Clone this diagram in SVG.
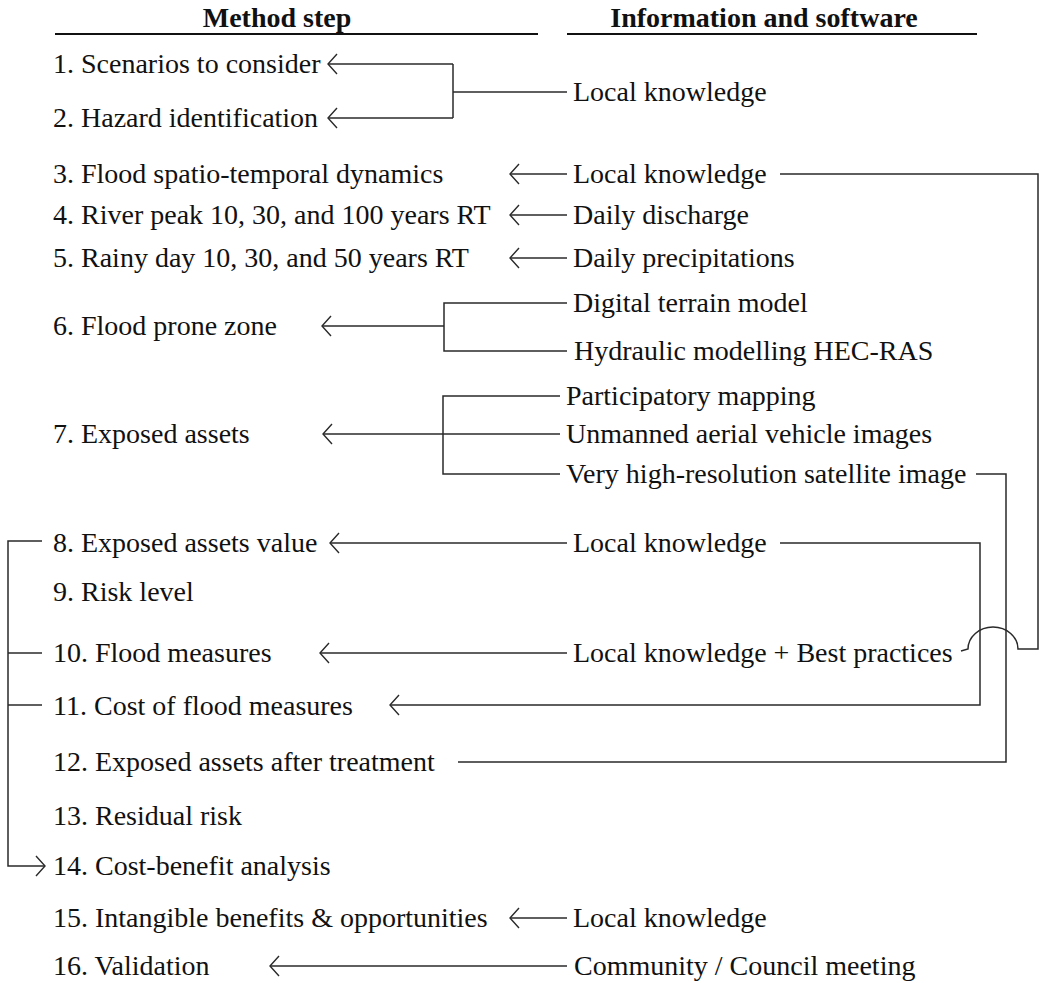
<svg xmlns="http://www.w3.org/2000/svg" width="1041" height="983" viewBox="0 0 1041 983">
<style>
text{font-family:"Liberation Serif","Times New Roman",serif;font-size:28px;fill:#111}
.h{font-weight:bold;text-anchor:middle}
.c{fill:none;stroke:#2a2a2a;stroke-width:1.5}
.u{stroke:#111;stroke-width:2}
</style>
<defs>
<marker id="ar" viewBox="-11 -12 13 24" markerWidth="13" markerHeight="24" refX="0" refY="0" markerUnits="userSpaceOnUse" orient="auto">
<path d="M-9,-10 L0,0 L-9,10" fill="none" stroke="#2a2a2a" stroke-width="1.4"/>
</marker>
</defs>
<rect width="1041" height="983" fill="#fff"/>
<g id="headers">
<text class="h" x="277" y="27">Method step</text>
<line class="u" x1="55" y1="34" x2="538" y2="34"/>
<text class="h" x="764" y="27">Information and software</text>
<line class="u" x1="567" y1="34" x2="977" y2="34"/>
</g>
<g id="steps">
<g id="s1"><text x="53" y="73">1. Scenarios to consider</text></g>
<g id="s2"><text x="53" y="127">2. Hazard identification</text></g>
<g id="s3"><text x="53" y="183">3. Flood spatio-temporal dynamics</text></g>
<g id="s4"><text x="53" y="224">4. River peak 10, 30, and 100 years RT</text></g>
<g id="s5"><text x="53" y="267">5. Rainy day 10, 30, and 50 years RT</text></g>
<g id="s6"><text x="53" y="335">6. Flood prone zone</text></g>
<g id="s7"><text x="53" y="443">7. Exposed assets</text></g>
<g id="s8"><text x="53" y="552">8. Exposed assets value</text></g>
<g id="s9"><text x="53" y="601">9. Risk level</text></g>
<g id="s10"><text x="53" y="662">10. Flood measures</text></g>
<g id="s11"><text x="53" y="715">11. Cost of flood measures</text></g>
<g id="s12"><text x="53" y="771">12. Exposed assets after treatment</text></g>
<g id="s13"><text x="53" y="825">13. Residual risk</text></g>
<g id="s14"><text x="53" y="875">14. Cost-benefit analysis</text></g>
<g id="s15"><text x="53" y="927">15. Intangible benefits &amp; opportunities</text></g>
<g id="s16"><text x="53" y="975">16. Validation</text></g>
</g>
<g id="info">
<g id="i1"><text x="573" y="101">Local knowledge</text></g>
<g id="i3"><text x="573" y="183">Local knowledge</text></g>
<g id="i4"><text x="573" y="224">Daily discharge</text></g>
<g id="i5"><text x="573" y="267">Daily precipitations</text></g>
<g id="i6a"><text x="573" y="312">Digital terrain model</text></g>
<g id="i6b"><text x="574" y="360">Hydraulic modelling HEC-RAS</text></g>
<g id="i7a"><text x="566" y="405">Participatory mapping</text></g>
<g id="i7b"><text x="566" y="443">Unmanned aerial vehicle images</text></g>
<g id="i7c"><text x="566" y="483">Very high-resolution satellite image</text></g>
<g id="i8"><text x="573" y="552">Local knowledge</text></g>
<g id="i10"><text x="573" y="662">Local knowledge + Best practices</text></g>
<g id="i15"><text x="573" y="927">Local knowledge</text></g>
<g id="i16"><text x="574" y="975">Community / Council meeting</text></g>
</g>
<g id="connectors">
<path class="c" d="M567,92 H453"/>
<path class="c" d="M453,64 V118"/>
<path class="c" d="M453,64 H328" marker-end="url(#ar)"/>
<path class="c" d="M453,118 H328" marker-end="url(#ar)"/>
<path class="c" d="M567,174 H510" marker-end="url(#ar)"/>
<path class="c" d="M567,215 H510" marker-end="url(#ar)"/>
<path class="c" d="M567,258 H510" marker-end="url(#ar)"/>
<path class="c" d="M567,303 H444 V351 H567"/>
<path class="c" d="M444,326 H322" marker-end="url(#ar)"/>
<path class="c" d="M560,396 H443 V474 H560"/>
<path class="c" d="M560,434 H323" marker-end="url(#ar)"/>
<path class="c" d="M780,174 H1038 V649 H1018 A25,22 0 0 0 968,649 L961,651"/>
<path class="c" d="M976,474 H1006 V762 H458"/>
<path class="c" d="M567,543 H330" marker-end="url(#ar)"/>
<path class="c" d="M780,543 H980 V705 H390" marker-end="url(#ar)"/>
<path class="c" d="M567,653 H320" marker-end="url(#ar)"/>
<path class="c" d="M42,541 H8 V866 H45" marker-end="url(#ar)"/>
<path class="c" d="M8,653 H42"/>
<path class="c" d="M8,705 H42"/>
<path class="c" d="M567,918 H510" marker-end="url(#ar)"/>
<path class="c" d="M567,966 H270" marker-end="url(#ar)"/>
</g>
</svg>
